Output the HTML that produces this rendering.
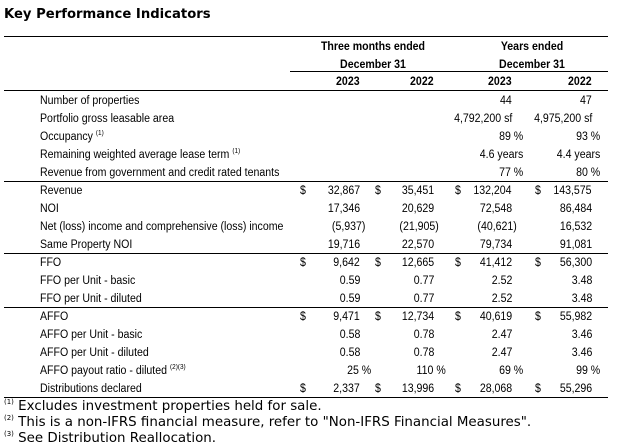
<!DOCTYPE html>
<html><head><meta charset="utf-8"><style>
body{margin:0;width:621px;height:445px;background:#fff;position:relative;overflow:hidden;font-family:"Liberation Sans",Arial,sans-serif;color:#000}
.t{position:absolute;white-space:nowrap;font-size:11.5px;line-height:14px}
.l{transform:scaleX(0.92);transform-origin:left center}
.r{transform:scaleX(0.92);transform-origin:right center}
.c{transform:translateX(-50%) scaleX(0.92)}
.hr{position:absolute;height:1px;background:#000}
sup{font-size:7px;vertical-align:5px;line-height:0}
.fn{position:absolute;font-family:"DejaVu Sans",Verdana,sans-serif;font-size:13.4px;white-space:nowrap;line-height:16px}
.fn sup{font-size:7px;vertical-align:6px;line-height:0}
</style></head><body>
<div class="fn" style="left:4px;top:7px;font-weight:bold;font-size:13.2px;line-height:16px">Key Performance Indicators</div>
<div class="hr" style="left:4px;top:36px;width:604px"></div>
<div class="t c" style="left:373px;top:40px;font-weight:bold">Three months ended</div>
<div class="t c" style="left:373px;top:58px;font-weight:bold">December 31</div>
<div class="t c" style="left:532px;top:40px;font-weight:bold">Years ended</div>
<div class="t c" style="left:532px;top:58px;font-weight:bold">December 31</div>
<div class="hr" style="left:290px;top:71px;width:318px"></div>
<div class="hr" style="left:4px;top:90px;width:604px"></div>
<div id="tbl"></div>
<div class="fn" style="left:4px;top:399px"><sup>(1)</sup> Excludes investment properties held for sale.</div>
<div class="fn" style="left:4px;top:415px"><sup>(2)</sup> This is a non-IFRS financial measure, refer to "Non-IFRS Financial Measures".</div>
<div class="fn" style="left:4px;top:431px"><sup>(3)</sup> See Distribution Reallocation.</div>
<script>
const years=["2023","2022","2023","2022"];
const labels=["Number of properties","Portfolio gross leasable area","Occupancy <sup>(1)</sup>","Remaining weighted average lease term <sup>(1)</sup>","Revenue from government and credit rated tenants","Revenue","NOI","Net (loss) income and comprehensive (loss) income","Same Property NOI","FFO","FFO per Unit - basic","FFO per Unit - diluted","AFFO","AFFO per Unit - basic","AFFO per Unit - diluted","AFFO payout ratio - diluted <sup>(2)(3)</sup>","Distributions declared"];
const q2023=["","","","","","32,867","17,346","(5,937)","19,716","9,642","0.59","0.59","9,471","0.58","0.58","25 %","2,337"];
const q2022=["","","","","","35,451","20,629","(21,905)","22,570","12,665","0.77","0.77","12,734","0.78","0.78","110 %","13,996"];
const y2023=["44","4,792,200 sf","89 %","4.6 years","77 %","132,204","72,548","(40,621)","79,734","41,412","2.52","2.52","40,619","2.47","2.47","69 %","28,068"];
const y2022=["47","4,975,200 sf","93 %","4.4 years","80 %","143,575","86,484","16,532","91,081","56,300","3.48","3.48","55,982","3.46","3.46","99 %","55,296"];
const dollarRows=[5,9,12,16];
const ruleAfter=[4,8,11,16];
const colRight=[360,434,512,592];
const pctRight=[371,446,523,600];
const dollarX=[300,375,455,535];
const tbl=document.getElementById('tbl');
function add(html,cls,style,name){const d=document.createElement('div');d.className=cls;d.setAttribute('style',style);d.innerHTML=html;


tbl.appendChild(d);return d;}
years.forEach((y,i)=>{add(y,'t r','right:'+(621-colRight[i])+'px;top:75px;font-weight:bold','year-header-'+i);});
const cols=[q2023,q2022,y2023,y2022];
labels.forEach((lab,r)=>{
 const top=94+r*18;
 add(lab,'t l','left:40px;top:'+top+'px','row-label-'+r);
 cols.forEach((col,c)=>{
  let v=col[r]; if(!v)return;
  let right=colRight[c];
  if(v.startsWith('('))right+=5;
  if(v.endsWith('%')||v.endsWith('years'))right=pctRight[c];
  add(v,'t r','right:'+(621-right)+'px;top:'+top+'px','cell-r'+r+'-c'+c);
 });
 if(dollarRows.includes(r)){dollarX.forEach((x,c)=>{add('$','t l','left:'+x+'px;top:'+top+'px','dollar-r'+r+'-c'+c);});}
 if(ruleAfter.includes(r)){add('','hr','left:4px;top:'+(top+15)+'px;width:604px','row-rule-'+r);}
});
</script>
</body></html>
